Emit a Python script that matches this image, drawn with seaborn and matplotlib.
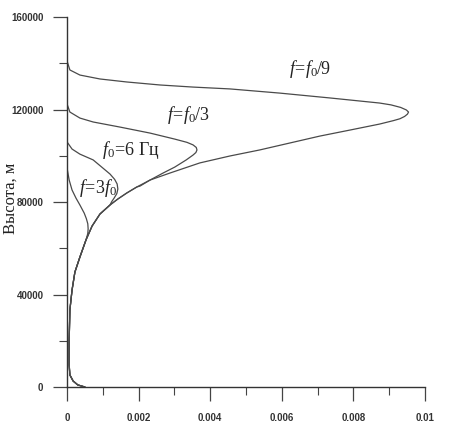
import pandas as pd
import numpy as np
import matplotlib
matplotlib.use('Agg')
import matplotlib.pyplot as plt
import seaborn as sns
from matplotlib.ticker import MultipleLocator, FuncFormatter

# upper parts of the curves (altitude, m / value)
alt_f9 = [141000, 137100, 134900, 133200, 131900, 130600, 129700, 128900, 127100,
          125000, 122800, 122000, 120900, 119800, 118900, 118000, 117000, 116000,
          115200, 113700, 111100, 108500, 105500, 102500, 99900]
val_f9 = [0, 0.00008, 0.00036, 0.00092, 0.00167, 0.0026, 0.00352, 0.00455, 0.00594,
          0.00734, 0.00873, 0.00905, 0.00932, 0.00948, 0.00954, 0.00951, 0.00943, 0.0093,
          0.00912, 0.00873, 0.0079, 0.00706, 0.00622, 0.00538, 0.00455]

alt_f3 = [122400, 118900, 116300, 114600, 112400, 109800, 107200, 105800, 104700,
          103600, 102500, 101400, 100300, 98200, 95100, 92500, 89500, 86900]
val_f3 = [0, 0.00008, 0.00036, 0.00073, 0.00148, 0.00232, 0.00301, 0.00335, 0.00352,
          0.00361, 0.00363, 0.0036, 0.00352, 0.00333, 0.00301, 0.00268, 0.00232, 0.00204]

alt_f0 = [106000, 102900, 100700, 98200, 94700, 92100, 89800, 87800, 85600, 83600,
          81800, 80200]
val_f0 = [0, 0.00014, 0.00036, 0.00073, 0.001, 0.0012, 0.00133, 0.0014, 0.00142, 0.00139,
          0.00132, 0.00125]

alt_3f = [94700, 89500, 85200, 81700, 78700, 75200, 72800, 70600, 68400, 66400, 64700]
val_3f = [0, 0.00006, 0.00014, 0.00025, 0.00036, 0.00048, 0.00054, 0.00058, 0.00059,
          0.00058, 0.00055]

# common lower part
alt_tail = [96900, 92500, 89500, 86500, 83900, 81300, 78700, 74800, 69600, 63600,
            56200, 49700, 41900, 33300, 20300, 9500, 5200, 2600, 900, 0]
val_tail = [0.00371, 0.00287, 0.00232, 0.00195, 0.00167, 0.00142, 0.0012, 0.00092, 0.0007,
            0.00053, 0.00036, 0.00022, 0.00014, 0.00008, 0.00006, 0.00006, 0.00008,
            0.00017, 0.0003, 0.0005]

curves = {'f0/9': (alt_f9, val_f9), 'f0/3': (alt_f3, val_f3),
          'f0': (alt_f0, val_f0), '3f0': (alt_3f, val_3f)}

rows = []
for name, (a, v) in curves.items():
    tail = [(h, x) for h, x in zip(alt_tail, val_tail) if h < a[-1]]
    pts = list(zip(a, v)) + tail
    for i, (h, x) in enumerate(pts):
        rows.append({'curve': name, 'order': i, 'alt': h, 'val': x})
df = pd.DataFrame(rows)

sns.set_style('ticks')
plt.rcParams['font.family'] = ['Liberation Sans', 'DejaVu Sans']
plt.rcParams['mathtext.fontset'] = 'custom'
plt.rcParams['mathtext.rm'] = 'Liberation Serif'
plt.rcParams['mathtext.it'] = 'Liberation Serif:italic'

fig = plt.figure(figsize=(4.72, 4.23), dpi=100)
ax = fig.add_axes([0.142, 0.0851, 0.7584, 0.8747])

sns.lineplot(data=df, x='val', y='alt', units='curve', estimator=None, sort=False,
             color='#4a4a4a', linewidth=0.9, ax=ax)

ax.set_xlim(0, 0.01)
ax.set_ylim(0, 160000)
sns.despine(ax=ax)
for s in ['left', 'bottom']:
    ax.spines[s].set_color('#333333')
    ax.spines[s].set_linewidth(1.0)

ax.xaxis.set_major_locator(MultipleLocator(0.002))
ax.xaxis.set_minor_locator(MultipleLocator(0.001))
ax.yaxis.set_major_locator(MultipleLocator(40000))
ax.yaxis.set_minor_locator(MultipleLocator(20000))
ax.xaxis.set_major_formatter(FuncFormatter(lambda v, p: '%g' % round(v, 4)))
ax.yaxis.set_major_formatter(FuncFormatter(lambda v, p: '%d' % v))
ax.tick_params(which='major', length=10, width=0.9, color='#444444',
               labelsize=7, labelcolor='#333333', pad=7)
ax.tick_params(which='minor', length=6, width=0.8, color='#444444')
ax.tick_params(axis='x', which='major', pad=9)
for t in ax.get_xticklabels() + ax.get_yticklabels():
    t.set_fontweight('bold')

ax.set_xlabel('')
ax.set_ylabel('Высота, м', family='Liberation Serif', fontsize=12, color='#222222',
              va='center')
ax.yaxis.set_label_coords(-0.158, 0.51)

lab = dict(family='Liberation Serif', fontsize=13, color='#222222', ha='center', va='center')
ax.text(0.00678, 137500, r'$f\!=\!f_0/9$', **lab)
ax.text(0.00338, 117600, r'$f\!=\!f_0/3$', **lab)
ax.text(0.00179, 102500, r'$f_0\!=\!6$ Гц', **lab)
ax.text(0.00086, 86000, r'$f\!=\!3f_0$', **lab)

fig.savefig('out.png', dpi=100)
